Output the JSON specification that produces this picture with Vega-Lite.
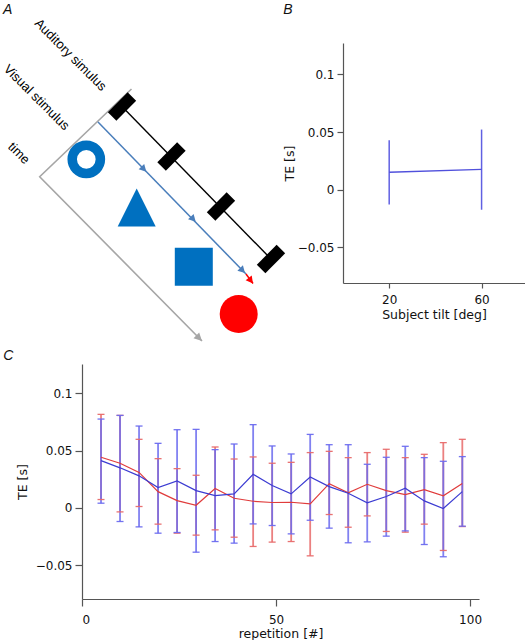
{
  "$schema": "https://vega.github.io/schema/vega-lite/v6.json",
  "padding": {"left": 0, "top": 3, "right": 0, "bottom": 0},
  "background": "white",
  "config": {
    "view": {"stroke": null},
    "axis": {
      "domainColor": "#555", "domainWidth": 1.2, "tickColor": "#555", "tickWidth": 1.2,
      "labelFont": "DejaVu Sans", "labelFontSize": 12, "labelColor": "#111",
      "titleFont": "DejaVu Sans", "titleFontSize": 12.5, "titleFontWeight": "normal", "titleColor": "#111",
      "grid": false
    },
    "title": {"font": "Liberation Sans", "fontSize": 14, "fontStyle": "italic", "fontWeight": "normal", "anchor": "start", "frame": "bounds", "color": "#111"}
  },
  "spacing": 4,
  "vconcat": [
    {
      "spacing": -3,
      "hconcat": [
        {
          "title": {"text": "A", "offset": 0, "dx": 2},
          "width": 203,
          "height": 302,
          "encoding": {
            "x": {"field": "x", "type": "quantitative", "scale": {"domain": [0, 20.3], "nice": false, "zero": false}, "axis": null},
            "y": {"field": "y", "type": "quantitative", "scale": {"domain": [0, 30.2], "nice": false, "zero": false, "reverse": true}, "axis": null}
          },
          "layer": [
            {
              "data": {"values": [{"x": 4.95, "y": 4.6, "o": 0}, {"x": -4.23, "y": 13.37, "o": 1}, {"x": 12.0, "y": 29.8, "o": 2}]},
              "mark": {"type": "line", "color": "#a6a6a6", "strokeWidth": 1.6},
              "encoding": {"order": {"field": "o", "type": "quantitative"}}
            },
            {
              "data": {"values": [{"x": 12.0, "y": 29.8}]},
              "mark": {"type": "point", "shape": "M0,0L-1,-0.5L-1,0.5Z", "filled": true, "size": 256, "angle": 45, "color": "#a6a6a6", "opacity": 1}
            },
            {
              "data": {"values": [{"x": 4.0, "y": 6.35, "o": 0}, {"x": 18.9, "y": 21.6, "o": 1}]},
              "mark": {"type": "line", "color": "#000000", "strokeWidth": 1.4},
              "encoding": {"order": {"field": "o", "type": "quantitative"}}
            },
            {
              "data": {"values": [{"x": 4.0, "y": 6.35}, {"x": 8.95, "y": 11.35}, {"x": 13.9, "y": 16.35}, {"x": 18.9, "y": 21.6}]},
              "mark": {"type": "point", "shape": "M-1,-0.43L1,-0.43L1,0.43L-1,0.43Z", "filled": true, "size": 784, "angle": 315, "color": "#000000", "opacity": 1}
            },
            {
              "data": {"values": [{"x": 1.6, "y": 7.9, "o": 0}, {"x": 16.4, "y": 23.1, "o": 1}]},
              "mark": {"type": "line", "color": "#4a7ebb", "strokeWidth": 1.5},
              "encoding": {"order": {"field": "o", "type": "quantitative"}}
            },
            {
              "data": {"values": [{"x": 6.43, "y": 12.87}, {"x": 11.37, "y": 17.87}, {"x": 16.3, "y": 23.0}]},
              "mark": {"type": "point", "shape": "M0,0L-1,-0.55L-1,0.55Z", "filled": true, "size": 196, "angle": 46, "color": "#4a7ebb", "opacity": 1}
            },
            {
              "data": {"values": [{"x": 16.4, "y": 23.1, "o": 0}, {"x": 17.1, "y": 24.05, "o": 1}]},
              "mark": {"type": "line", "color": "#ff0000", "strokeWidth": 1.5},
              "encoding": {"order": {"field": "o", "type": "quantitative"}}
            },
            {
              "data": {"values": [{"x": 17.1, "y": 24.05}]},
              "mark": {"type": "point", "shape": "M0,0L-1,-0.55L-1,0.55Z", "filled": true, "size": 196, "angle": 52, "color": "#ff0000", "opacity": 1}
            },
            {
              "data": {"values": [{"x": 0.43, "y": 11.63}]},
              "mark": {"type": "point", "shape": "circle", "filled": false, "size": 795, "strokeWidth": 9.5, "color": "#0070c0", "opacity": 1}
            },
            {
              "data": {"values": [{"x": 5.47, "y": 16.45}]},
              "mark": {"type": "point", "shape": "M0,-1L1,1L-1,1Z", "filled": true, "size": 1444, "color": "#0070c0", "opacity": 1}
            },
            {
              "data": {"values": [{"x": 11.18, "y": 22.37}]},
              "mark": {"type": "point", "shape": "square", "filled": true, "size": 1444, "color": "#0070c0", "opacity": 1}
            },
            {
              "data": {"values": [{"x": 15.67, "y": 27.1}]},
              "mark": {"type": "point", "shape": "circle", "filled": true, "size": 1444, "color": "#ff0000", "opacity": 1}
            },
            {
              "data": {"values": [
                {"x": -1.15, "y": 1.2, "label": "Auditory simulus"},
                {"x": -4.55, "y": 5.45, "label": "Visual stimulus"},
                {"x": -6.32, "y": 11.03, "label": "time"}
              ]},
              "mark": {"type": "text", "angle": 45, "font": "Liberation Sans", "fontSize": 13, "align": "center", "baseline": "middle", "color": "#000000"},
              "encoding": {"text": {"field": "label", "type": "nominal"}}
            }
          ]
        },
        {
          "title": {"text": "B", "offset": 26},
          "width": 182,
          "height": 240,
          "data": {"values": [
            {"tilt": 20, "mean": 0.0152, "lo": -0.0127, "hi": 0.0429},
            {"tilt": 60, "mean": 0.0176, "lo": -0.0173, "hi": 0.0522}
          ]},
          "encoding": {
            "x": {"field": "tilt", "type": "quantitative", "scale": {"domain": [0, 78.8], "nice": false, "zero": false},
                  "axis": {"values": [20, 60], "title": "Subject tilt [deg]", "tickSize": 5, "labelPadding": 6, "titlePadding": 3}},
            "y": {"field": "mean", "type": "quantitative", "scale": {"domain": [-0.0808, 0.1272], "nice": false, "zero": false},
                  "axis": {"values": [-0.05, 0, 0.05, 0.1], "format": "~g", "title": "TE [s]", "tickSize": 6, "labelPadding": 3, "titlePadding": 1}}
          },
          "layer": [
            {
              "data": {"values": [{"level": 0}, {"level": 0.05}]},
              "mark": {"type": "rule", "strokeDash": [8, 5], "color": "#444", "strokeWidth": 1.2},
              "encoding": {"y": {"field": "level", "type": "quantitative"}, "x": {"datum": 10}, "x2": {"datum": 69}}
            },
            {
              "mark": {"type": "rule", "color": "#6060e2", "strokeWidth": 1.5},
              "encoding": {"y": {"field": "lo", "type": "quantitative"}, "y2": {"field": "hi"}}
            },
            {
              "mark": {"type": "line", "color": "#5050dc", "strokeWidth": 1.3}
            }
          ]
        }
      ]
    },
    {
      "title": {"text": "C", "offset": 1, "dx": -13},
      "width": 397,
      "height": 235,
      "data": {"values": [
        {"rep": 4.9, "cond": "red", "mean": 0.0442, "lo": 0.0073, "hi": 0.0817},
        {"rep": 9.8, "cond": "red", "mean": 0.039, "lo": -0.0035, "hi": 0.0808},
        {"rep": 14.7, "cond": "red", "mean": 0.031, "lo": 0.0012, "hi": 0.0599},
        {"rep": 19.6, "cond": "red", "mean": 0.0142, "lo": -0.0142, "hi": 0.043},
        {"rep": 24.5, "cond": "red", "mean": 0.0064, "lo": -0.0221, "hi": 0.0343},
        {"rep": 29.4, "cond": "red", "mean": 0.0023, "lo": -0.0238, "hi": 0.0285},
        {"rep": 34.3, "cond": "red", "mean": 0.0169, "lo": -0.0192, "hi": 0.0532},
        {"rep": 39.2, "cond": "red", "mean": 0.0084, "lo": -0.0256, "hi": 0.0427},
        {"rep": 44.1, "cond": "red", "mean": 0.0058, "lo": -0.0337, "hi": 0.0445},
        {"rep": 49.0, "cond": "red", "mean": 0.0047, "lo": -0.0299, "hi": 0.039},
        {"rep": 53.9, "cond": "red", "mean": 0.0049, "lo": -0.0294, "hi": 0.0398},
        {"rep": 58.8, "cond": "red", "mean": 0.0035, "lo": -0.0419, "hi": 0.0483},
        {"rep": 63.7, "cond": "red", "mean": 0.0212, "lo": -0.0058, "hi": 0.0494},
        {"rep": 68.6, "cond": "red", "mean": 0.0131, "lo": -0.0169, "hi": 0.0439},
        {"rep": 73.5, "cond": "red", "mean": 0.0206, "lo": -0.007, "hi": 0.0483},
        {"rep": 78.4, "cond": "red", "mean": 0.0151, "lo": -0.0206, "hi": 0.0512},
        {"rep": 83.3, "cond": "red", "mean": 0.0116, "lo": -0.0212, "hi": 0.0439},
        {"rep": 88.2, "cond": "red", "mean": 0.016, "lo": -0.0142, "hi": 0.0468},
        {"rep": 93.1, "cond": "red", "mean": 0.0105, "lo": -0.0372, "hi": 0.057},
        {"rep": 98.0, "cond": "red", "mean": 0.0212, "lo": -0.0163, "hi": 0.0599},
        {"rep": 4.9, "cond": "blue", "mean": 0.0413, "lo": 0.0041, "hi": 0.0776},
        {"rep": 9.8, "cond": "blue", "mean": 0.035, "lo": -0.0119, "hi": 0.0808},
        {"rep": 14.7, "cond": "blue", "mean": 0.028, "lo": -0.0166, "hi": 0.0715},
        {"rep": 19.6, "cond": "blue", "mean": 0.0177, "lo": -0.0221, "hi": 0.0564},
        {"rep": 24.5, "cond": "blue", "mean": 0.0235, "lo": -0.0215, "hi": 0.0683},
        {"rep": 29.4, "cond": "blue", "mean": 0.0151, "lo": -0.0387, "hi": 0.0686},
        {"rep": 34.3, "cond": "blue", "mean": 0.0108, "lo": -0.0294, "hi": 0.0509},
        {"rep": 39.2, "cond": "blue", "mean": 0.0122, "lo": -0.0308, "hi": 0.0558},
        {"rep": 44.1, "cond": "blue", "mean": 0.0294, "lo": -0.014, "hi": 0.0727},
        {"rep": 49.0, "cond": "blue", "mean": 0.0195, "lo": -0.0154, "hi": 0.0541},
        {"rep": 53.9, "cond": "blue", "mean": 0.0122, "lo": -0.0227, "hi": 0.0471},
        {"rep": 58.8, "cond": "blue", "mean": 0.027, "lo": -0.0108, "hi": 0.0642},
        {"rep": 63.7, "cond": "blue", "mean": 0.0186, "lo": -0.0177, "hi": 0.0552},
        {"rep": 68.6, "cond": "blue", "mean": 0.0128, "lo": -0.0305, "hi": 0.0552},
        {"rep": 73.5, "cond": "blue", "mean": 0.0044, "lo": -0.0297, "hi": 0.0381},
        {"rep": 78.4, "cond": "blue", "mean": 0.0099, "lo": -0.0247, "hi": 0.0442},
        {"rep": 83.3, "cond": "blue", "mean": 0.0172, "lo": -0.0201, "hi": 0.0538},
        {"rep": 88.2, "cond": "blue", "mean": 0.0061, "lo": -0.032, "hi": 0.0439},
        {"rep": 93.1, "cond": "blue", "mean": -0.0006, "lo": -0.0427, "hi": 0.0407},
        {"rep": 98.0, "cond": "blue", "mean": 0.0142, "lo": -0.016, "hi": 0.0448}
      ]},
      "encoding": {
        "x": {"field": "rep", "type": "quantitative", "scale": {"domain": [0, 102.3], "nice": false, "zero": false},
              "axis": {"values": [0, 50, 100], "title": "repetition [#]", "tickSize": 7, "labelPadding": 8, "titlePadding": 2}},
        "y": {"field": "mean", "type": "quantitative", "scale": {"domain": [-0.0796, 0.1257], "nice": false, "zero": false},
              "axis": {"values": [-0.05, 0, 0.05, 0.1], "format": "~g", "title": "TE [s]", "tickSize": 7, "labelPadding": 3, "titlePadding": 6}}
      },
      "layer": [
        {
          "data": {"values": [{"level": 0}, {"level": 0.05}]},
          "mark": {"type": "rule", "strokeDash": [8, 5], "color": "#444", "strokeWidth": 1.2},
          "encoding": {"y": {"field": "level", "type": "quantitative"}, "x": {"datum": 0.3}, "x2": {"datum": 97.7}}
        },
        {
          "mark": {"type": "rule", "strokeWidth": 1.8, "opacity": 0.85},
          "encoding": {
            "y": {"field": "lo", "type": "quantitative"}, "y2": {"field": "hi"},
            "color": {"condition": {"test": "datum.cond === 'red'", "value": "#e86a6a"}, "value": "#6b6bef"}
          }
        },
        {
          "mark": {"type": "tick", "orient": "horizontal", "size": 7, "thickness": 1.3, "opacity": 0.95},
          "encoding": {
            "y": {"field": "lo", "type": "quantitative"},
            "color": {"condition": {"test": "datum.cond === 'red'", "value": "#e86a6a"}, "value": "#6b6bef"}
          }
        },
        {
          "mark": {"type": "tick", "orient": "horizontal", "size": 7, "thickness": 1.3, "opacity": 0.95},
          "encoding": {
            "y": {"field": "hi", "type": "quantitative"},
            "color": {"condition": {"test": "datum.cond === 'red'", "value": "#e86a6a"}, "value": "#6b6bef"}
          }
        },
        {
          "mark": {"type": "line", "strokeWidth": 1.2},
          "encoding": {
            "detail": {"field": "cond", "type": "nominal"},
            "color": {"condition": {"test": "datum.cond === 'red'", "value": "#e03c3c"}, "value": "#3c3cd2"}
          }
        }
      ]
    }
  ]
}
